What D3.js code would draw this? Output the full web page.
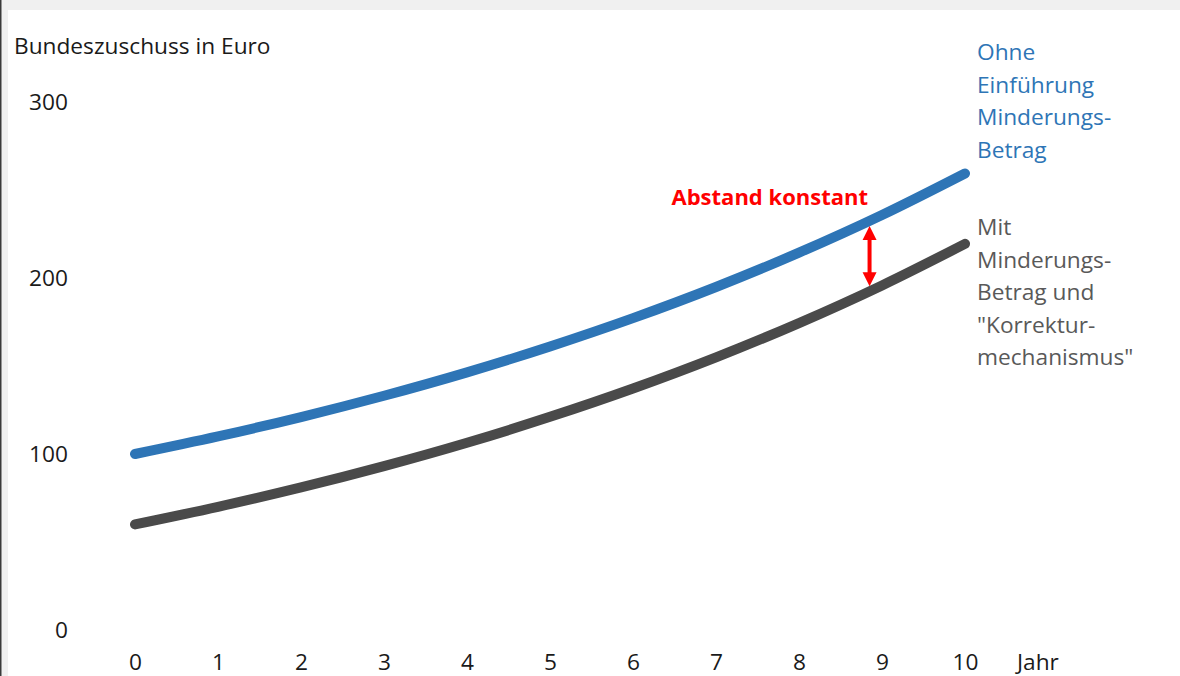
<!DOCTYPE html>
<html>
<head>
<meta charset="utf-8">
<script src="https://cdn.jsdelivr.net/npm/d3@7"></script>
<style>
  html, body { margin: 0; padding: 0; background: #fff; }
  svg { display: block; }
  text { font-family: "Open Sans", "Noto Sans", sans-serif; }
</style>
</head>
<body>
<svg id="chart" width="1180" height="676"></svg>
<script>
// Years on the horizontal axis
const years = [0, 1, 2, 3, 4, 5, 6, 7, 8, 9, 10];
// Federal subsidy without the reduction amount
const ohneValues = [100, 110, 121, 133.1, 146.4, 161.1, 177.2, 194.9, 214.4, 235.8, 259.4];
// Federal subsidy with reduction amount and correction mechanism
const mitValues = [60, 70, 81, 93.1, 106.4, 121.1, 137.2, 154.9, 174.4, 195.8, 219.4];
// Axis ticks
const yTicks = [0, 100, 200, 300];
const xTicks = years;
// Labels
const ohneLabel = ["Ohne", "Einführung", "Minderungs-", "Betrag"];
const mitLabel = ["Mit", "Minderungs-", "Betrag und", "\"Korrektur-", "mechanismus\""];
const yTitle = "Bundeszuschuss in Euro";
const xTitle = "Jahr";
const gapLabel = "Abstand konstant";
const gapYear = 8.85;

const svg = d3.select("#chart");
const W = 1180, H = 676;

// Frame: light grey band on top and left, thin dark rule at far left
svg.append("rect").attr("x", 0).attr("y", 0).attr("width", W).attr("height", 10).attr("fill", "#f0f0f0");
svg.append("rect").attr("x", 0).attr("y", 0).attr("width", 8).attr("height", H).attr("fill", "#f0f0f0");
svg.append("rect").attr("x", 0).attr("y", 0).attr("width", 1.5).attr("height", H).attr("fill", "#3a3a3a");

const x = d3.scaleLinear().domain([0, 10]).range([135, 965]);
const y = d3.scaleLinear().domain([0, 300]).range([630, 102]);

const textColor = "#1a1a1a";
const fs = 22.7;

// Y axis labels (no axis line)
const yAxis = d3.axisLeft(y).tickValues(yTicks).tickSize(0).tickPadding(0);
const gy = svg.append("g").attr("transform", "translate(68,0)").call(yAxis);
gy.select(".domain").remove();
gy.selectAll("text").attr("fill", textColor).style("font-size", fs + "px")
  .style("font-family", "\"Open Sans\", sans-serif");

// X axis labels
const xAxis = d3.axisBottom(x).tickValues(xTicks).tickSize(0).tickPadding(0).tickFormat(d3.format("d"));
const gx = svg.append("g").attr("transform", "translate(0,654)").call(xAxis);
gx.select(".domain").remove();
gx.selectAll("text").attr("fill", textColor).style("font-size", fs + "px")
  .style("font-family", "\"Open Sans\", sans-serif");

svg.append("text").attr("x", 14).attr("y", 54).attr("fill", textColor)
  .style("font-size", fs + "px").text(yTitle);
svg.append("text").attr("x", 1017).attr("y", 670).attr("fill", textColor)
  .style("font-size", fs + "px").text(xTitle);

// Lines
const line = d3.line().x((d, i) => x(years[i])).y(d => y(d)).curve(d3.curveMonotoneX);

const blue = "#2e75b6", grey = "#4a4a4a";
const ohnePath = svg.append("path").datum(ohneValues).attr("d", line)
  .attr("fill", "none").attr("stroke", blue).attr("stroke-width", 10)
  .attr("stroke-linecap", "round").attr("stroke-linejoin", "round");
const mitPath = svg.append("path").datum(mitValues).attr("d", line)
  .attr("fill", "none").attr("stroke", grey).attr("stroke-width", 10)
  .attr("stroke-linecap", "round").attr("stroke-linejoin", "round");

// Series labels
const lh = 32.6;
const ohneText = svg.append("text").attr("x", 977).attr("y", 60).attr("fill", blue).style("font-size", fs + "px");
ohneLabel.forEach((s, i) => ohneText.append("tspan").attr("x", 977).attr("y", 60 + i * lh).text(s));
const mitText = svg.append("text").attr("x", 977).attr("y", 235).attr("fill", "#595959").style("font-size", fs + "px");
mitLabel.forEach((s, i) => mitText.append("tspan").attr("x", 977).attr("y", 235 + i * lh).text(s));

// Find the y of a path at a given x
function yAt(path, px) {
  const node = path.node();
  const len = node.getTotalLength();
  let lo = 0, hi = len;
  for (let k = 0; k < 40; k++) {
    const mid = (lo + hi) / 2;
    if (node.getPointAtLength(mid).x < px) lo = mid; else hi = mid;
  }
  return node.getPointAtLength((lo + hi) / 2).y;
}

// Double-headed arrow showing the constant gap
const ax = x(gapYear);
const yTop = yAt(ohnePath, ax) + 5;
const yBot = yAt(mitPath, ax) - 5;
const red = "#ff0000";
const headL = 14, headW = 7;
svg.append("line").attr("x1", ax).attr("x2", ax).attr("y1", yTop + headL - 1).attr("y2", yBot - headL + 1)
  .attr("stroke", red).attr("stroke-width", 4);
svg.append("path").attr("d", `M${ax},${yTop} L${ax - headW},${yTop + headL} L${ax + headW},${yTop + headL} Z`).attr("fill", red);
svg.append("path").attr("d", `M${ax},${yBot} L${ax - headW},${yBot - headL} L${ax + headW},${yBot - headL} Z`).attr("fill", red);

svg.append("text").attr("x", 868).attr("y", 205).attr("text-anchor", "end")
  .attr("fill", red).style("font-size", "22px").style("font-weight", "bold").text(gapLabel);
</script>
</body>
</html>
